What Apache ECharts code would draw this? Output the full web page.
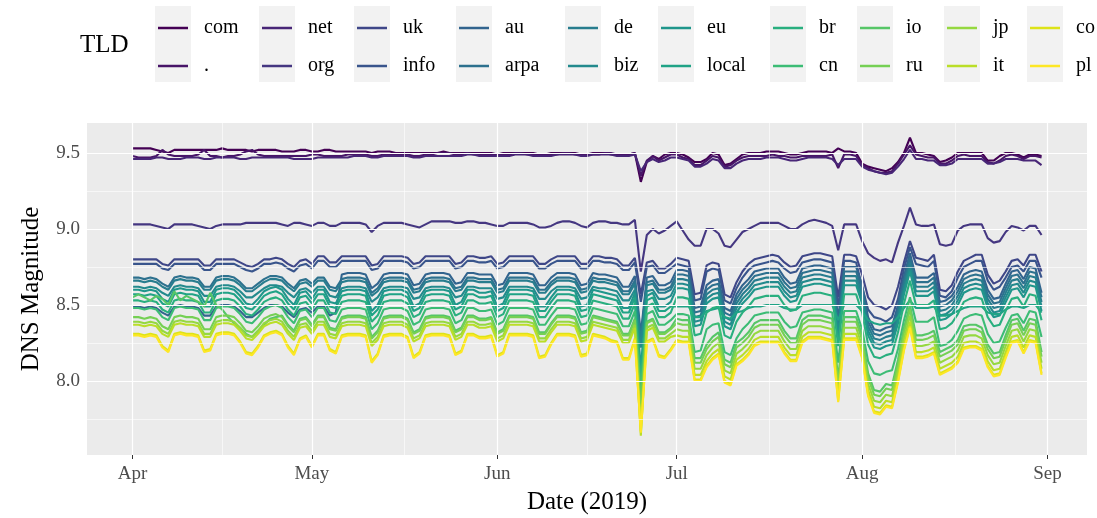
<!DOCTYPE html>
<html><head><meta charset="utf-8">
<script src="https://cdn.jsdelivr.net/npm/echarts@6/dist/echarts.min.js"></script>
<style>html,body{margin:0;padding:0;background:#fff}#c{width:1097px;height:518px}</style>
</head><body><div id="c"></div>
<script>
// ---- categories / ticks ----
const tldNames = ['com','.','net','org','uk','info','au','arpa','de','biz','eu','local','br','cn','io','ru','jp','it','co','pl'];
const tldColors = ['#440154','#481568','#482677','#453781','#3F4788','#39558C','#32648E','#2D718E','#287D8E','#238A8D','#1F968B','#20A386','#29AF7F','#3CBC75','#56C667','#75D054','#95D840','#BADE28','#DDE318','#FDE725'];
const legendColumns = [['com','.'],['net','org'],['uk','info'],['au','arpa'],['de','biz'],['eu','local'],['br','cn'],['io','ru'],['jp','it'],['co','pl']];
const monthTicks = ['2019-04-01','2019-05-01','2019-06-01','2019-07-01','2019-08-01','2019-09-01'];
const monthLabels = ['Apr','May','Jun','Jul','Aug','Sep'];
const monthMinor = ['2019-04-16','2019-05-16 12:00','2019-06-16','2019-07-16 12:00','2019-08-16 12:00'];
const yTicks = [8.0, 8.5, 9.0, 9.5];
const yMinor = [7.75, 8.25, 8.75, 9.25];
const firstDay = '2019-04-01';
const dayCount = 153; // 1 Apr .. 31 Aug 2019, one value per day

// ---- daily DNS magnitude per TLD ----
const com = [
9.53,9.53,9.53,9.53,9.52,9.51,9.50, 9.52,9.52,9.52,9.52,9.52,9.52,9.52, 9.52,9.53,9.52,9.52,9.52,9.52,9.51,
9.52,9.52,9.52,9.52,9.51,9.51,9.51, 9.52,9.52,9.51,9.51,9.52,9.52,9.51, 9.51,9.51,9.51,9.51,9.51,9.50,9.51,
9.51,9.51,9.50,9.50,9.50,9.50,9.50, 9.50,9.50,9.50,9.51,9.50,9.50,9.50, 9.50,9.50,9.50,9.50,9.50,9.49,9.50,
9.50,9.50,9.50,9.50,9.50,9.49,9.49, 9.50,9.50,9.50,9.50,9.50,9.49,9.49, 9.50,9.50,9.50,9.49,9.49,9.49,9.49,
9.50,9.31,9.44,9.48,9.46,9.49,9.50,
9.50,9.49,9.47,9.44,9.44,9.46,9.50, 9.49,9.42,9.43,9.46,9.49,9.50,9.50, 9.50,9.51,9.51,9.51,9.50,9.49,9.49,
9.50,9.51,9.51,9.51,9.51,9.50,9.53, 9.51,9.51,9.50,9.43,9.41,9.40,9.39, 9.38,9.40,9.44,9.50,9.60,9.50,9.50,
9.49,9.48,9.44,9.45,9.47,9.50,9.50, 9.50,9.50,9.50,9.45,9.45,9.48,9.50, 9.50,9.49,9.47,9.49,9.49,9.48];
const dot = [
9.48,9.47,9.47,9.47,9.48,9.52,9.49, 9.48,9.48,9.48,9.48,9.49,9.52,9.48, 9.48,9.47,9.48,9.48,9.49,9.51,9.52,
9.49,9.48,9.48,9.48,9.48,9.48,9.48, 9.48,9.48,9.49,9.49,9.48,9.48,9.48, 9.48,9.49,9.49,9.49,9.49,9.48,9.48,
9.49,9.49,9.49,9.49,9.49,9.48,9.48, 9.49,9.49,9.50,9.50,9.50,9.49,9.49, 9.50,9.49,9.49,9.49,9.49,9.49,9.49,
9.49,9.50,9.50,9.49,9.49,9.49,9.49, 9.49,9.49,9.50,9.50,9.49,9.49,9.49, 9.49,9.49,9.50,9.50,9.49,9.49,9.49,
9.50,9.35,9.45,9.48,9.45,9.47,9.49,
9.49,9.47,9.46,9.42,9.42,9.45,9.48, 9.47,9.41,9.42,9.45,9.47,9.48,9.48, 9.48,9.48,9.49,9.48,9.48,9.47,9.47,
9.48,9.48,9.48,9.48,9.48,9.49,9.40, 9.49,9.49,9.48,9.42,9.40,9.38,9.37, 9.37,9.38,9.43,9.49,9.55,9.49,9.48,
9.47,9.47,9.43,9.43,9.45,9.48,9.49, 9.48,9.48,9.48,9.44,9.43,9.45,9.48, 9.49,9.48,9.46,9.48,9.48,9.47];
const net = [
9.46,9.46,9.46,9.46,9.47,9.47,9.46, 9.46,9.46,9.47,9.47,9.47,9.46,9.46, 9.47,9.47,9.47,9.47,9.46,9.46,9.47,
9.47,9.47,9.47,9.47,9.47,9.47,9.46, 9.46,9.46,9.46,9.47,9.47,9.47,9.47, 9.47,9.47,9.48,9.48,9.48,9.47,9.47,
9.48,9.48,9.48,9.48,9.48,9.47,9.47, 9.48,9.48,9.48,9.48,9.48,9.48,9.48, 9.49,9.49,9.48,9.48,9.48,9.48,9.48,
9.48,9.49,9.49,9.49,9.48,9.48,9.48, 9.48,9.49,9.49,9.49,9.49,9.48,9.48, 9.49,9.49,9.49,9.49,9.48,9.48,9.48,
9.49,9.38,9.44,9.46,9.44,9.45,9.47,
9.47,9.46,9.45,9.41,9.41,9.43,9.46, 9.45,9.40,9.40,9.43,9.45,9.46,9.46, 9.46,9.47,9.47,9.47,9.46,9.45,9.45,
9.46,9.47,9.47,9.47,9.47,9.46,9.42, 9.46,9.46,9.46,9.41,9.39,9.38,9.37, 9.36,9.37,9.41,9.46,9.52,9.46,9.46,
9.45,9.45,9.42,9.42,9.43,9.46,9.46, 9.46,9.46,9.46,9.43,9.43,9.44,9.46, 9.46,9.46,9.45,9.45,9.45,9.42];
const org = [
9.03,9.03,9.03,9.03,9.02,9.01,9.00, 9.03,9.03,9.03,9.03,9.02,9.01,9.00, 9.02,9.03,9.03,9.03,9.03,9.04,9.04,
9.04,9.04,9.04,9.04,9.03,9.02,9.04, 9.04,9.03,9.02,9.04,9.04,9.02,9.02, 9.04,9.04,9.04,9.04,9.03,8.98,9.02,
9.04,9.04,9.04,9.04,9.03,9.02,9.01, 9.03,9.05,9.05,9.05,9.05,9.04,9.04, 9.05,9.05,9.04,9.04,9.03,9.02,9.02,
9.04,9.04,9.04,9.04,9.03,9.01,9.01, 9.02,9.04,9.05,9.05,9.04,9.02,9.01, 9.04,9.05,9.05,9.04,9.04,9.03,9.03,
9.06,8.72,8.96,9.00,8.97,8.99,9.02,
9.05,8.99,8.93,8.89,8.89,9.00,9.00, 8.97,8.89,8.88,8.93,8.98,9.00,9.02, 9.04,9.04,9.04,9.04,9.02,9.00,9.00,
9.03,9.05,9.06,9.05,9.04,9.02,8.86, 9.03,9.03,9.03,8.92,8.84,8.81,8.79, 8.80,8.78,8.91,9.02,9.14,9.03,9.02,
9.02,9.03,8.90,8.89,8.90,8.99,9.02, 9.03,9.03,9.03,8.94,8.91,8.92,8.98, 9.02,9.01,8.99,9.02,9.02,8.96];
const uk = [
8.80,8.80,8.80,8.80,8.80,8.77,8.76, 8.80,8.80,8.80,8.80,8.80,8.76,8.76, 8.80,8.80,8.80,8.80,8.78,8.76,8.75,
8.77,8.80,8.80,8.81,8.80,8.77,8.75, 8.79,8.80,8.77,8.82,8.82,8.78,8.78, 8.82,8.82,8.82,8.82,8.82,8.76,8.77,
8.82,8.82,8.82,8.82,8.81,8.77,8.78, 8.82,8.82,8.82,8.82,8.82,8.77,8.78, 8.82,8.82,8.81,8.81,8.82,8.77,8.78,
8.82,8.82,8.82,8.82,8.82,8.77,8.77, 8.80,8.82,8.82,8.82,8.82,8.77,8.77, 8.82,8.82,8.81,8.81,8.80,8.76,8.76,
8.81,8.57,8.78,8.79,8.74,8.74,8.77,
8.81,8.80,8.79,8.57,8.58,8.76,8.78, 8.77,8.57,8.55,8.65,8.72,8.77,8.80, 8.81,8.82,8.83,8.82,8.78,8.75,8.76,
8.82,8.83,8.84,8.84,8.83,8.82,8.55, 8.83,8.83,8.82,8.70,8.55,8.50,8.49, 8.47,8.50,8.62,8.78,8.92,8.81,8.80,
8.79,8.83,8.60,8.59,8.63,8.72,8.79, 8.81,8.83,8.83,8.70,8.64,8.66,8.72, 8.79,8.80,8.76,8.83,8.83,8.72];
const info = [
8.77,8.77,8.77,8.77,8.77,8.74,8.73, 8.77,8.77,8.77,8.77,8.77,8.73,8.73, 8.77,8.77,8.77,8.77,8.75,8.73,8.72,
8.74,8.77,8.77,8.78,8.77,8.74,8.72, 8.76,8.77,8.74,8.79,8.79,8.75,8.75, 8.79,8.79,8.79,8.79,8.79,8.73,8.74,
8.79,8.79,8.79,8.79,8.78,8.74,8.75, 8.79,8.79,8.79,8.79,8.79,8.74,8.75, 8.79,8.79,8.78,8.78,8.79,8.74,8.75,
8.79,8.79,8.79,8.79,8.79,8.74,8.74, 8.77,8.79,8.79,8.79,8.79,8.74,8.74, 8.79,8.79,8.78,8.78,8.77,8.73,8.73,
8.78,8.52,8.75,8.76,8.71,8.71,8.74,
8.77,8.76,8.75,8.53,8.54,8.72,8.74, 8.73,8.53,8.51,8.61,8.68,8.73,8.76, 8.77,8.78,8.79,8.78,8.74,8.71,8.72,
8.78,8.79,8.80,8.80,8.79,8.78,8.49, 8.79,8.79,8.78,8.62,8.47,8.42,8.41, 8.39,8.42,8.54,8.74,8.88,8.77,8.76,
8.75,8.79,8.56,8.55,8.59,8.68,8.75, 8.77,8.79,8.79,8.66,8.60,8.62,8.68, 8.75,8.76,8.72,8.79,8.79,8.68];
const au = [
8.49,8.49,8.48,8.49,8.48,8.45,8.43, 8.49,8.50,8.49,8.49,8.48,8.43,8.43, 8.49,8.50,8.50,8.49,8.46,8.42,8.42,
8.45,8.48,8.50,8.50,8.49,8.45,8.42, 8.47,8.48,8.45,8.49,8.49,8.43,8.45, 8.70,8.71,8.71,8.71,8.70,8.61,8.64,
8.70,8.71,8.71,8.71,8.70,8.63,8.64, 8.70,8.71,8.71,8.71,8.70,8.64,8.65, 8.71,8.71,8.70,8.70,8.70,8.63,8.64,
8.71,8.71,8.71,8.71,8.70,8.63,8.63, 8.68,8.71,8.71,8.71,8.70,8.63,8.64, 8.71,8.70,8.70,8.69,8.68,8.62,8.62,
8.69,8.31,8.68,8.69,8.63,8.63,8.65,
8.73,8.73,8.72,8.48,8.49,8.63,8.66, 8.67,8.48,8.46,8.57,8.63,8.67,8.72, 8.73,8.74,8.74,8.74,8.68,8.64,8.65,
8.74,8.75,8.76,8.76,8.75,8.74,8.41, 8.75,8.75,8.75,8.63,8.42,8.34,8.33, 8.35,8.36,8.50,8.69,8.84,8.68,8.68,
8.68,8.71,8.52,8.53,8.56,8.62,8.70, 8.72,8.73,8.72,8.60,8.54,8.55,8.64, 8.72,8.73,8.67,8.75,8.74,8.58];
const arpa = [
8.68,8.68,8.67,8.68,8.67,8.64,8.62, 8.68,8.69,8.68,8.68,8.67,8.62,8.62, 8.68,8.69,8.69,8.68,8.65,8.61,8.61,
8.64,8.67,8.69,8.69,8.68,8.64,8.61, 8.66,8.67,8.64,8.68,8.68,8.62,8.61, 8.67,8.68,8.68,8.68,8.67,8.58,8.61,
8.67,8.68,8.68,8.68,8.67,8.60,8.61, 8.67,8.68,8.68,8.68,8.67,8.61,8.62, 8.68,8.68,8.67,8.67,8.67,8.60,8.61,
8.68,8.68,8.68,8.68,8.67,8.60,8.60, 8.65,8.68,8.68,8.68,8.67,8.60,8.61, 8.68,8.67,8.67,8.66,8.65,8.59,8.59,
8.66,8.28,8.65,8.66,8.60,8.60,8.62,
8.70,8.70,8.69,8.45,8.46,8.60,8.63, 8.64,8.45,8.43,8.54,8.60,8.64,8.69, 8.70,8.71,8.71,8.71,8.65,8.61,8.62,
8.71,8.72,8.73,8.73,8.72,8.71,8.38, 8.72,8.72,8.72,8.60,8.39,8.31,8.30, 8.32,8.33,8.47,8.66,8.81,8.65,8.65,
8.65,8.68,8.49,8.50,8.53,8.59,8.67, 8.69,8.70,8.69,8.57,8.51,8.52,8.61, 8.69,8.70,8.64,8.72,8.71,8.55];
const de = [
8.66,8.66,8.65,8.66,8.65,8.62,8.60, 8.66,8.67,8.66,8.66,8.65,8.60,8.60, 8.66,8.67,8.67,8.66,8.63,8.59,8.59,
8.62,8.65,8.67,8.67,8.66,8.62,8.59, 8.64,8.65,8.62,8.66,8.66,8.60,8.59, 8.65,8.66,8.66,8.66,8.65,8.56,8.59,
8.65,8.66,8.66,8.66,8.65,8.58,8.59, 8.65,8.66,8.66,8.66,8.65,8.59,8.60, 8.66,8.66,8.65,8.65,8.65,8.58,8.59,
8.66,8.66,8.66,8.66,8.65,8.58,8.58, 8.63,8.66,8.66,8.66,8.65,8.58,8.59, 8.66,8.65,8.65,8.64,8.63,8.57,8.57,
8.64,8.26,8.63,8.64,8.58,8.58,8.60,
8.67,8.67,8.66,8.42,8.43,8.57,8.60, 8.61,8.42,8.40,8.51,8.57,8.61,8.66, 8.67,8.68,8.68,8.68,8.62,8.58,8.59,
8.68,8.69,8.70,8.70,8.69,8.68,8.35, 8.69,8.69,8.69,8.57,8.36,8.28,8.27, 8.29,8.30,8.44,8.63,8.78,8.62,8.62,
8.62,8.65,8.46,8.47,8.50,8.56,8.64, 8.66,8.67,8.66,8.54,8.48,8.49,8.58, 8.66,8.67,8.61,8.69,8.68,8.52];
const biz = [
8.62,8.62,8.61,8.62,8.61,8.58,8.56, 8.62,8.63,8.62,8.62,8.61,8.56,8.56, 8.62,8.63,8.63,8.62,8.59,8.55,8.55,
8.58,8.61,8.63,8.63,8.62,8.58,8.55, 8.60,8.61,8.58,8.62,8.62,8.56,8.55, 8.61,8.62,8.62,8.62,8.61,8.52,8.55,
8.61,8.62,8.62,8.62,8.61,8.54,8.55, 8.61,8.62,8.62,8.62,8.61,8.55,8.56, 8.62,8.62,8.61,8.61,8.61,8.54,8.55,
8.62,8.62,8.62,8.62,8.61,8.54,8.54, 8.59,8.62,8.62,8.62,8.61,8.54,8.55, 8.62,8.61,8.61,8.60,8.59,8.53,8.53,
8.60,8.22,8.59,8.60,8.54,8.54,8.56,
8.64,8.64,8.63,8.39,8.40,8.54,8.57, 8.58,8.39,8.37,8.48,8.54,8.58,8.63, 8.64,8.65,8.65,8.65,8.59,8.55,8.56,
8.65,8.66,8.67,8.67,8.66,8.65,8.32, 8.66,8.66,8.66,8.54,8.33,8.25,8.24, 8.26,8.27,8.41,8.60,8.75,8.59,8.59,
8.59,8.62,8.43,8.44,8.47,8.53,8.61, 8.63,8.64,8.63,8.51,8.45,8.46,8.55, 8.63,8.64,8.58,8.66,8.65,8.49];
const eu = [
8.60,8.60,8.59,8.60,8.59,8.54,8.52, 8.60,8.61,8.60,8.60,8.59,8.52,8.52, 8.60,8.61,8.61,8.60,8.56,8.51,8.50,
8.54,8.59,8.61,8.62,8.60,8.54,8.50, 8.58,8.59,8.54,8.60,8.60,8.52,8.51, 8.59,8.60,8.60,8.60,8.59,8.46,8.50,
8.59,8.60,8.60,8.60,8.58,8.49,8.51, 8.59,8.60,8.60,8.60,8.59,8.50,8.52, 8.60,8.60,8.58,8.58,8.59,8.49,8.51,
8.60,8.60,8.60,8.60,8.59,8.49,8.49, 8.55,8.60,8.60,8.60,8.59,8.49,8.50, 8.60,8.59,8.58,8.57,8.56,8.48,8.48,
8.58,8.08,8.56,8.58,8.49,8.49,8.52,
8.61,8.61,8.60,8.36,8.37,8.51,8.54, 8.55,8.36,8.34,8.45,8.51,8.55,8.60, 8.61,8.62,8.62,8.62,8.56,8.52,8.53,
8.62,8.63,8.64,8.64,8.63,8.62,8.29, 8.63,8.63,8.63,8.51,8.30,8.22,8.21, 8.23,8.24,8.38,8.57,8.72,8.56,8.56,
8.56,8.59,8.40,8.41,8.44,8.50,8.58, 8.60,8.61,8.60,8.48,8.42,8.43,8.52, 8.60,8.61,8.55,8.63,8.62,8.46];
const local = [
8.57,8.57,8.56,8.57,8.56,8.51,8.49, 8.57,8.58,8.57,8.57,8.56,8.49,8.49, 8.57,8.58,8.58,8.57,8.53,8.48,8.47,
8.51,8.56,8.58,8.59,8.57,8.51,8.47, 8.55,8.56,8.51,8.57,8.57,8.49,8.48, 8.56,8.57,8.57,8.57,8.56,8.43,8.47,
8.56,8.57,8.57,8.57,8.55,8.46,8.48, 8.56,8.57,8.57,8.57,8.56,8.47,8.49, 8.57,8.57,8.55,8.55,8.56,8.46,8.48,
8.57,8.57,8.57,8.57,8.56,8.46,8.46, 8.52,8.57,8.57,8.57,8.56,8.46,8.47, 8.57,8.56,8.55,8.54,8.53,8.45,8.45,
8.55,8.05,8.53,8.55,8.46,8.46,8.49,
8.49,8.49,8.49,8.42,8.42,8.46,8.47, 8.48,8.42,8.41,8.45,8.46,8.48,8.49, 8.49,8.50,8.50,8.50,8.48,8.47,8.47,
8.50,8.50,8.50,8.50,8.50,8.50,8.40, 8.50,8.50,8.50,8.46,8.40,8.38,8.37, 8.38,8.38,8.42,8.48,8.53,8.48,8.48,
8.48,8.49,8.43,8.43,8.44,8.46,8.48, 8.49,8.49,8.49,8.45,8.44,8.44,8.47, 8.49,8.49,8.48,8.50,8.50,8.45];
const br = [
8.53,8.53,8.52,8.53,8.52,8.47,8.45, 8.53,8.54,8.53,8.53,8.52,8.45,8.45, 8.53,8.54,8.54,8.53,8.49,8.44,8.43,
8.47,8.52,8.54,8.55,8.53,8.47,8.43, 8.51,8.52,8.47,8.53,8.53,8.45,8.44, 8.52,8.53,8.53,8.53,8.52,8.39,8.43,
8.52,8.53,8.53,8.53,8.51,8.42,8.44, 8.52,8.53,8.53,8.53,8.52,8.43,8.45, 8.53,8.53,8.51,8.51,8.52,8.42,8.44,
8.53,8.53,8.53,8.53,8.52,8.42,8.42, 8.48,8.53,8.53,8.53,8.52,8.42,8.43, 8.53,8.52,8.51,8.50,8.49,8.41,8.41,
8.51,8.01,8.49,8.51,8.42,8.42,8.45,
8.55,8.55,8.54,8.30,8.31,8.45,8.48, 8.49,8.30,8.28,8.39,8.45,8.49,8.54, 8.55,8.56,8.56,8.56,8.50,8.46,8.47,
8.56,8.57,8.58,8.58,8.57,8.56,8.23, 8.57,8.57,8.57,8.45,8.24,8.16,8.15, 8.17,8.18,8.32,8.51,8.66,8.50,8.50,
8.50,8.53,8.34,8.35,8.38,8.44,8.52, 8.54,8.55,8.54,8.42,8.36,8.37,8.46, 8.54,8.55,8.49,8.57,8.56,8.40];
const cn = [
8.48,8.48,8.47,8.48,8.47,8.42,8.40, 8.48,8.49,8.48,8.48,8.47,8.40,8.40, 8.48,8.49,8.49,8.48,8.44,8.39,8.38,
8.42,8.47,8.49,8.50,8.48,8.42,8.38, 8.46,8.47,8.42,8.48,8.48,8.40,8.39, 8.47,8.48,8.48,8.48,8.47,8.34,8.38,
8.47,8.48,8.48,8.48,8.46,8.37,8.39, 8.47,8.48,8.48,8.48,8.47,8.38,8.40, 8.48,8.48,8.46,8.46,8.47,8.37,8.39,
8.48,8.48,8.48,8.48,8.47,8.37,8.37, 8.43,8.48,8.48,8.48,8.47,8.37,8.38, 8.48,8.47,8.46,8.45,8.44,8.36,8.36,
8.46,7.96,8.44,8.46,8.37,8.37,8.40,
8.44,8.44,8.43,8.19,8.20,8.34,8.37, 8.38,8.19,8.17,8.28,8.34,8.38,8.43, 8.44,8.45,8.45,8.45,8.39,8.35,8.36,
8.45,8.46,8.47,8.47,8.46,8.45,8.12, 8.46,8.46,8.46,8.34,8.13,8.05,8.04, 8.06,8.07,8.21,8.40,8.55,8.39,8.39,
8.39,8.42,8.23,8.24,8.27,8.33,8.41, 8.43,8.44,8.43,8.31,8.25,8.26,8.35, 8.43,8.44,8.38,8.46,8.45,8.29];
const io = [
8.55,8.57,8.55,8.53,8.56,8.54,8.50, 8.59,8.53,8.56,8.54,8.52,8.49,8.58, 8.50,8.47,8.42,8.38,8.35,8.31,8.29,
8.33,8.37,8.41,8.42,8.43,8.37,8.33, 8.41,8.42,8.37,8.43,8.43,8.35,8.34, 8.42,8.43,8.43,8.43,8.42,8.29,8.33,
8.42,8.43,8.43,8.43,8.41,8.32,8.34, 8.42,8.43,8.43,8.43,8.42,8.33,8.35, 8.43,8.43,8.41,8.41,8.42,8.32,8.34,
8.43,8.43,8.43,8.43,8.42,8.32,8.32, 8.38,8.43,8.43,8.43,8.42,8.32,8.33, 8.43,8.42,8.41,8.40,8.39,8.31,8.31,
8.41,7.88,8.39,8.41,8.32,8.32,8.35,
8.41,8.40,8.40,8.15,8.15,8.24,8.29, 8.32,8.14,8.12,8.25,8.28,8.32,8.38, 8.40,8.40,8.40,8.40,8.33,8.28,8.28,
8.40,8.43,8.43,8.43,8.42,8.41,8.01, 8.42,8.42,8.42,8.30,8.05,7.94,7.93, 7.98,7.97,8.14,8.35,8.50,8.30,8.30,
8.31,8.33,8.19,8.21,8.23,8.27,8.36, 8.37,8.37,8.35,8.24,8.18,8.19,8.30, 8.40,8.41,8.33,8.41,8.40,8.19];
const ru = [
8.42,8.42,8.41,8.42,8.41,8.36,8.34, 8.42,8.43,8.42,8.42,8.41,8.34,8.34, 8.42,8.43,8.43,8.42,8.38,8.33,8.32,
8.36,8.41,8.43,8.44,8.42,8.36,8.32, 8.40,8.41,8.36,8.42,8.42,8.34,8.33, 8.41,8.42,8.42,8.42,8.41,8.28,8.32,
8.41,8.42,8.42,8.42,8.40,8.31,8.33, 8.41,8.42,8.42,8.42,8.41,8.32,8.34, 8.42,8.42,8.40,8.40,8.41,8.31,8.33,
8.42,8.42,8.42,8.42,8.41,8.31,8.31, 8.37,8.42,8.42,8.42,8.41,8.31,8.32, 8.42,8.41,8.40,8.39,8.38,8.30,8.30,
8.40,7.80,8.38,8.40,8.31,8.31,8.34,
8.38,8.37,8.37,8.12,8.12,8.21,8.26, 8.29,8.11,8.09,8.22,8.25,8.29,8.35, 8.37,8.37,8.37,8.37,8.30,8.25,8.25,
8.37,8.40,8.40,8.40,8.39,8.38,7.98, 8.39,8.39,8.39,8.27,8.02,7.91,7.90, 7.95,7.94,8.11,8.32,8.47,8.27,8.27,
8.28,8.30,8.16,8.18,8.20,8.24,8.33, 8.34,8.34,8.32,8.21,8.15,8.16,8.27, 8.37,8.38,8.30,8.38,8.37,8.16];
const jp = [
8.39,8.39,8.38,8.39,8.38,8.33,8.31, 8.39,8.40,8.39,8.39,8.38,8.31,8.31, 8.39,8.40,8.40,8.39,8.35,8.30,8.29,
8.33,8.38,8.40,8.41,8.39,8.33,8.29, 8.37,8.38,8.33,8.39,8.39,8.31,8.30, 8.38,8.39,8.39,8.39,8.38,8.25,8.29,
8.38,8.39,8.39,8.39,8.37,8.28,8.30, 8.38,8.39,8.39,8.39,8.38,8.29,8.31, 8.39,8.39,8.37,8.37,8.38,8.28,8.30,
8.39,8.39,8.39,8.39,8.38,8.28,8.28, 8.34,8.39,8.39,8.39,8.38,8.28,8.29, 8.39,8.38,8.37,8.36,8.35,8.27,8.27,
8.37,7.70,8.35,8.37,8.28,8.28,8.31,
8.34,8.33,8.33,8.08,8.08,8.17,8.22, 8.25,8.07,8.05,8.18,8.21,8.25,8.31, 8.33,8.33,8.33,8.33,8.26,8.21,8.21,
8.33,8.36,8.36,8.36,8.35,8.34,7.94, 8.35,8.35,8.35,8.23,7.98,7.87,7.86, 7.91,7.90,8.07,8.28,8.43,8.23,8.23,
8.24,8.26,8.12,8.14,8.16,8.20,8.29, 8.30,8.30,8.28,8.17,8.11,8.12,8.23, 8.33,8.34,8.26,8.34,8.33,8.12];
const it = [
8.37,8.37,8.36,8.37,8.36,8.31,8.29, 8.37,8.38,8.37,8.37,8.36,8.29,8.29, 8.37,8.38,8.38,8.37,8.33,8.28,8.27,
8.31,8.36,8.38,8.39,8.37,8.31,8.27, 8.35,8.36,8.31,8.37,8.37,8.29,8.28, 8.36,8.37,8.37,8.37,8.36,8.23,8.27,
8.36,8.37,8.37,8.37,8.35,8.26,8.28, 8.36,8.37,8.37,8.37,8.36,8.27,8.29, 8.37,8.37,8.35,8.35,8.36,8.26,8.28,
8.37,8.37,8.37,8.37,8.36,8.26,8.26, 8.32,8.37,8.37,8.37,8.36,8.26,8.27, 8.37,8.36,8.35,8.34,8.33,8.25,8.25,
8.35,7.64,8.33,8.35,8.26,8.26,8.29,
8.30,8.29,8.29,8.04,8.04,8.13,8.18, 8.21,8.03,8.01,8.14,8.17,8.21,8.27, 8.29,8.29,8.29,8.29,8.22,8.17,8.17,
8.29,8.32,8.32,8.32,8.31,8.30,7.90, 8.31,8.31,8.31,8.19,7.94,7.83,7.82, 7.87,7.86,8.03,8.24,8.39,8.19,8.19,
8.20,8.22,8.08,8.10,8.12,8.16,8.25, 8.26,8.26,8.24,8.13,8.07,8.08,8.19, 8.29,8.30,8.22,8.30,8.29,8.08];
const co = [
8.31,8.31,8.30,8.31,8.30,8.23,8.20, 8.31,8.32,8.31,8.31,8.30,8.20,8.21, 8.31,8.32,8.32,8.31,8.26,8.19,8.18,
8.23,8.30,8.32,8.33,8.31,8.23,8.18, 8.28,8.30,8.23,8.31,8.31,8.21,8.19, 8.30,8.31,8.31,8.31,8.30,8.13,8.18,
8.30,8.31,8.31,8.31,8.29,8.16,8.19, 8.30,8.31,8.31,8.31,8.30,8.18,8.20, 8.31,8.31,8.29,8.29,8.30,8.17,8.19,
8.31,8.31,8.31,8.31,8.30,8.16,8.17, 8.25,8.31,8.31,8.31,8.30,8.17,8.18, 8.31,8.30,8.29,8.27,8.26,8.15,8.15,
8.28,7.67,8.26,8.28,8.17,8.16,8.21,
8.27,8.26,8.26,8.01,8.01,8.10,8.15, 8.18,8.00,7.98,8.11,8.14,8.18,8.24, 8.26,8.26,8.26,8.26,8.19,8.14,8.14,
8.26,8.29,8.29,8.29,8.28,8.27,7.87, 8.28,8.28,8.28,8.16,7.91,7.80,7.79, 7.84,7.83,8.00,8.21,8.36,8.16,8.16,
8.17,8.19,8.05,8.07,8.09,8.13,8.22, 8.23,8.23,8.21,8.10,8.04,8.05,8.16, 8.26,8.27,8.19,8.27,8.26,8.05];
const pl = [
8.30,8.30,8.29,8.30,8.29,8.22,8.19, 8.30,8.31,8.30,8.30,8.29,8.19,8.20, 8.30,8.31,8.31,8.30,8.25,8.18,8.17,
8.22,8.29,8.31,8.32,8.30,8.22,8.17, 8.27,8.29,8.22,8.30,8.30,8.20,8.18, 8.29,8.30,8.30,8.30,8.29,8.12,8.17,
8.29,8.30,8.30,8.30,8.28,8.15,8.18, 8.29,8.30,8.30,8.30,8.29,8.17,8.19, 8.30,8.30,8.28,8.28,8.29,8.16,8.18,
8.30,8.30,8.30,8.30,8.29,8.15,8.16, 8.24,8.30,8.30,8.30,8.29,8.16,8.17, 8.30,8.29,8.28,8.26,8.25,8.14,8.14,
8.27,7.66,8.25,8.27,8.16,8.15,8.20,
8.26,8.25,8.25,8.00,8.00,8.09,8.14, 8.17,7.99,7.97,8.10,8.13,8.17,8.23, 8.25,8.25,8.25,8.25,8.18,8.13,8.13,
8.25,8.28,8.28,8.28,8.27,8.26,7.86, 8.27,8.27,8.27,8.15,7.90,7.79,7.78, 7.83,7.82,7.99,8.20,8.35,8.15,8.15,
8.16,8.18,8.04,8.06,8.08,8.12,8.21, 8.22,8.22,8.20,8.09,8.03,8.04,8.15, 8.25,8.26,8.18,8.26,8.25,8.04];

const seriesValues = [com,dot,net,org,uk,info,au,arpa,de,biz,eu,local,br,cn,io,ru,jp,it,co,pl];

// ---- build: x = days since 1 Apr 2019 ----
const DAY = 86400000;
const t0 = echarts.time.parse(firstDay).getTime();
const dayOf = s => (echarts.time.parse(s).getTime() - t0) / DAY;
const dayIndex = [];
for (let i = 0; i < dayCount; i++) dayIndex.push(i);
const monthTickDays = monthTicks.map(dayOf);
const monthMinorDays = monthMinor.map(dayOf);
const xMin = -7.6, xMax = (dayCount - 1) + 7.6;

const serif = '"Liberation Serif", "DejaVu Serif", serif';
const badLen = seriesValues.map((v, i) => v.length !== dayCount ? tldNames[i] + ':' + v.length : null).filter(Boolean);

const series = tldNames.map((name, k) => ({
  name: name,
  type: 'line',
  data: dayIndex.map(i => [i, seriesValues[k][i]]),
  showSymbol: false,
  symbol: 'none',
  lineStyle: { width: 2.1, color: tldColors[k] },
  itemStyle: { color: tldColors[k] },
  emphasis: { disabled: true },
  z: 2
}));

const gridMarks = [];
yTicks.forEach(v => gridMarks.push({ yAxis: v, lineStyle: { width: 1.2 } }));
yMinor.forEach(v => gridMarks.push({ yAxis: v, lineStyle: { width: 0.6 } }));
monthTickDays.forEach(v => gridMarks.push({ xAxis: v, lineStyle: { width: 1.2 } }));
monthMinorDays.forEach(v => gridMarks.push({ xAxis: v, lineStyle: { width: 0.6 } }));

series.unshift({
  name: '__grid', type: 'line', data: [], z: 1, silent: true,
  markLine: { silent: true, symbol: 'none', animation: false,
    label: { show: false }, lineStyle: { color: '#FFFFFF', type: 'solid', opacity: 1 },
    emphasis: { disabled: true }, data: gridMarks }
});

const boxLefts = [155, 259, 354, 456, 565, 658, 770, 857, 944, 1027];
const legends = legendColumns.map((col, i) => ({
  orient: 'vertical', left: boxLefts[i] + 3, top: 18, padding: 0,
  data: col, icon: 'rect', itemWidth: 30, itemHeight: 2.5, itemGap: 18,
  selectedMode: false,
  textStyle: { fontFamily: serif, fontSize: 20, color: '#000', lineHeight: 20, padding: [0, 0, 0, 11] }
}));
const graphics = boxLefts.map(x => ({ type: 'rect', shape: { x: x, y: 6, width: 36, height: 76 }, style: { fill: '#F2F2F2' }, z: 0, silent: true }));
graphics.push({ type: 'text', left: 80, top: 33, style: { text: 'TLD', font: '25px ' + serif, fill: '#000' }, z: 1 });
if (badLen.length) graphics.push({ type: 'text', left: 300, top: 480, style: { text: 'LEN ' + badLen.join(' '), fill: 'red', font: '14px sans-serif' }, z: 10 });

const chart = echarts.init(document.getElementById('c'), null, { renderer: 'canvas' });
chart.setOption({
  animation: false,
  backgroundColor: '#FFFFFF',
  grid: { left: 87, right: 10, top: 123, bottom: 63, show: true, backgroundColor: '#EBEBEB', borderWidth: 0,
    containLabel: false, outerBoundsMode: 'none' },
  legend: legends,
  graphic: graphics,
  xAxis: {
    type: 'value', min: xMin, max: xMax,
    name: 'Date (2019)', nameLocation: 'middle', nameGap: 35,
    nameTextStyle: { fontFamily: serif, fontSize: 25, color: '#000' },
    axisLine: { show: false },
    axisTick: { show: true, length: 4, lineStyle: { color: '#333', width: 1 }, customValues: monthTickDays },
    axisLabel: { fontFamily: serif, fontSize: 19, color: '#4D4D4D', margin: 10,
      customValues: monthTickDays,
      formatter: v => { const i = monthTickDays.indexOf(v); return i >= 0 ? monthLabels[i] : ''; } },
    splitLine: { show: false }
  },
  yAxis: {
    type: 'value', min: 7.513, max: 9.697,
    name: 'DNS Magnitude', nameLocation: 'middle', nameGap: 43, nameRotate: 90,
    nameTextStyle: { fontFamily: serif, fontSize: 25, color: '#000' },
    axisLine: { show: false },
    axisTick: { show: true, length: 4, lineStyle: { color: '#333', width: 1 }, customValues: yTicks },
    axisLabel: { fontFamily: serif, fontSize: 19, color: '#4D4D4D', margin: 7, customValues: yTicks, formatter: v => v.toFixed(1) },
    splitLine: { show: false }
  },
  series: series
});
</script></body></html>
